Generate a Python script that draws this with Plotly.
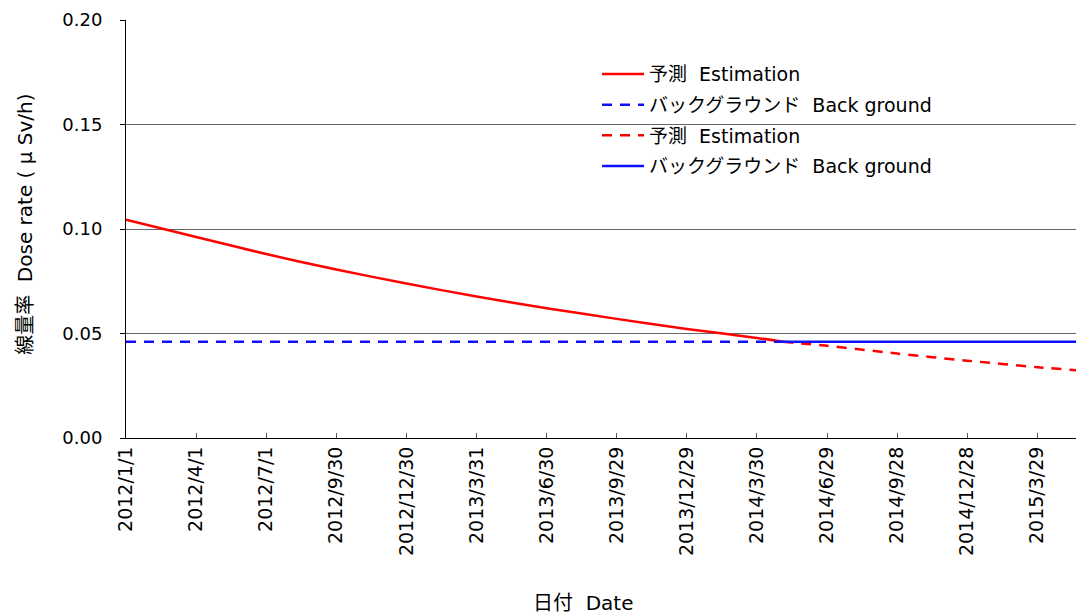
import plotly.graph_objects as go

# ---- data ----
tick_dates = ["2012-01-01", "2012-04-01", "2012-07-01", "2012-09-30", "2012-12-30",
              "2013-03-31", "2013-06-30", "2013-09-29", "2013-12-29", "2014-03-30",
              "2014-06-29", "2014-09-28", "2014-12-28", "2015-03-29"]
tick_labels = ["2012/1/1", "2012/4/1", "2012/7/1", "2012/9/30", "2012/12/30",
               "2013/3/31", "2013/6/30", "2013/9/29", "2013/12/29", "2014/3/30",
               "2014/6/29", "2014/9/28", "2014/12/28", "2015/3/29"]

est_dates = ["2012-01-01", "2012-04-01", "2012-07-01", "2012-09-30", "2012-12-30",
             "2013-03-31", "2013-06-30", "2013-09-29", "2013-12-29", "2014-03-30",
             "2014-05-03", "2014-06-29", "2014-09-28", "2014-12-28", "2015-03-29",
             "2015-06-08"]
est_values = [0.1045, 0.0962, 0.0880, 0.0806, 0.0739,
              0.0677, 0.0621, 0.0570, 0.0522, 0.0479,
              0.0460, 0.0441, 0.0404, 0.0370, 0.0339,
              0.0318]
cross_index = 10  # where estimation meets background

bg_dates = ["2012-01-01", "2014-05-03", "2015-06-08"]
bg_values = [0.046, 0.046, 0.046]

x_start = "2012-01-01"
x_end = "2015-06-08"

NB = "\u00a0"
name_est = "予測" + NB * 2 + "Estimation"
name_bg = "バックグラウンド" + NB * 2 + "Back ground"

RED = "#ff0000"
BLUE = "#1010ff"
FONT = "DejaVu Sans, Noto Sans CJK JP, sans-serif"

fig = go.Figure()
fig.add_trace(go.Scatter(
    x=est_dates[:cross_index + 1], y=est_values[:cross_index + 1],
    mode="lines", name=name_est, legendgroup="a",
    line=dict(color=RED, width=2.5, shape="spline", smoothing=0.6)))
fig.add_trace(go.Scatter(
    x=bg_dates[:2], y=bg_values[:2],
    mode="lines", name=name_bg, legendgroup="b",
    line=dict(color=BLUE, width=2.5, dash="10px,8px")))
fig.add_trace(go.Scatter(
    x=est_dates[cross_index:], y=est_values[cross_index:],
    mode="lines", name=name_est, legendgroup="c",
    line=dict(color=RED, width=2.5, dash="10px,8px", shape="spline", smoothing=0.6)))
fig.add_trace(go.Scatter(
    x=bg_dates[1:], y=bg_values[1:],
    mode="lines", name=name_bg, legendgroup="d",
    line=dict(color=BLUE, width=2.5)))

fig.update_layout(
    width=1084, height=615,
    margin=dict(l=118, r=0, t=12, b=185, autoexpand=False),
    paper_bgcolor="white", plot_bgcolor="white",
    font=dict(family=FONT, size=18, color="black"),
    showlegend=True,
    legend=dict(x=0.4876, y=0.916, xanchor="left", yanchor="top",
                bgcolor="rgba(0,0,0,0)", traceorder="grouped", itemwidth=42,
                tracegroupgap=3, font=dict(size=19, family=FONT)),
    xaxis=dict(range=[x_start, x_end], type="date", automargin=False,
               tickmode="array", tickvals=tick_dates, ticktext=tick_labels,
               tickangle=-90, tickfont=dict(size=19, family=FONT),
               showgrid=False, showline=True, linecolor="black", linewidth=1,
               ticks="inside", ticklen=5, tickcolor="#555", zeroline=False),
    yaxis=dict(range=[0, 0.2], tickvals=[0, 0.05, 0.10, 0.15, 0.20], automargin=False,
               tickformat=".2f", tickfont=dict(size=18, family=FONT),
               ticklabelstandoff=14,
               showgrid=True, gridcolor="#666", gridwidth=1,
               showline=True, linecolor="black", linewidth=1,
               ticks="outside", ticklen=5, tickcolor="black", zeroline=False),
    annotations=[
        dict(text="線量率" + NB * 2 + "Dose rate ( μ Sv/h)", xref="paper", yref="paper",
             x=-0.1045, y=0.51, xanchor="center", yanchor="middle", textangle=-90,
             showarrow=False, font=dict(size=20, family=FONT)),
        dict(text="日付" + NB * 2 + "Date", xref="paper", yref="paper",
             x=0.4741, y=-0.395, xanchor="center", yanchor="middle",
             showarrow=False, font=dict(size=20, family=FONT)),
    ],
)

fig.write_html("out.html")
